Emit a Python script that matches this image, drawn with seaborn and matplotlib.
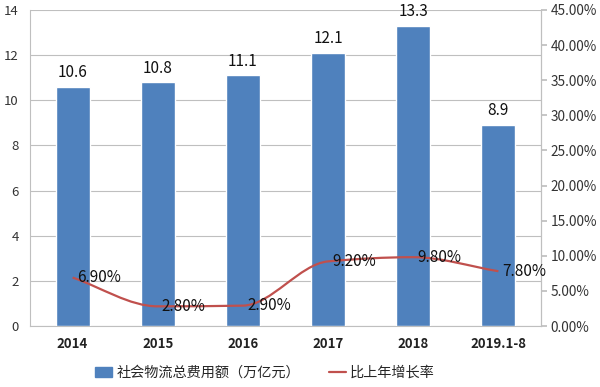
import matplotlib
matplotlib.use("Agg")
import matplotlib.pyplot as plt
import seaborn as sns
import numpy as np
import pandas as pd
from matplotlib.path import Path
from matplotlib.patches import PathPatch
from matplotlib.ticker import FuncFormatter, MultipleLocator
from matplotlib.lines import Line2D
from matplotlib.patches import Patch

categories = ["2014", "2015", "2016", "2017", "2018", "2019.1-8"]
cost = [10.6, 10.8, 11.1, 12.1, 13.3, 8.9]
growth = [6.9, 2.8, 2.9, 9.2, 9.8, 7.8]  # percent
bar_name = "社会物流总费用额（万亿元）"
line_name = "比上年增长率"

sns.set_theme(style="white")
plt.rcParams["font.family"] = ["Noto Sans CJK SC", "DejaVu Sans"]

BAR = "#4F81BD"
LINE = "#C0504D"
GRID = "#BFBFBF"

fig = plt.figure(figsize=(6.0, 3.87), dpi=100)
ax = fig.add_axes([30/600, 1-326/387, (541-30)/600, (326-10)/387])

df = pd.DataFrame({"cat": categories, "cost": cost, "growth": growth})
sns.barplot(data=df, x="cat", y="cost", color=BAR, saturation=1, width=0.4, ax=ax, zorder=3)
ax.set_xlim(-0.5, len(categories) - 0.5)
ax.set_ylim(0, 14)
ax.yaxis.set_major_locator(MultipleLocator(2))
ax.grid(axis="y", color=GRID, linewidth=0.8, zorder=0)
ax.set_axisbelow(True)
ax.set_xlabel("")
ax.set_ylabel("")
ax.spines["top"].set_visible(False)
for s in ["left", "bottom", "right"]:
    ax.spines[s].set_color(GRID)
    ax.spines[s].set_linewidth(0.8)
ax.tick_params(axis="y", labelsize=9.5, colors="#333333", length=0, pad=8)
ax.tick_params(axis="x", length=0, pad=8)
for lbl in ax.get_xticklabels():
    lbl.set_fontweight("bold")
    lbl.set_fontsize(9.5)
    lbl.set_color("#222222")
ax.set_xticks(np.arange(len(categories) + 1) - 0.5, minor=True)
ax.tick_params(axis="x", which="minor", length=4, color=GRID, direction="out")

for i, v in enumerate(cost):
    ax.text(i, v + 0.25, f"{v}", ha="center", va="bottom", fontsize=11, color="#111111", zorder=5)

ax2 = ax.twinx()
ax2.set_ylim(0, 45)
ax2.yaxis.set_major_locator(MultipleLocator(5))
ax2.yaxis.set_major_formatter(FuncFormatter(lambda v, p: f"{v:.2f}%"))
ax2.tick_params(axis="y", labelsize=9.8, colors="#333333", length=4, color=GRID, direction="out", pad=3)
for s in ["top", "left", "bottom"]:
    ax2.spines[s].set_visible(False)
ax2.spines["right"].set_color(GRID)
ax2.spines["right"].set_linewidth(0.8)
ax2.grid(False)

# smooth monotone cubic (Fritsch-Carlson tangents) drawn as Bezier path
xs = np.arange(len(growth), dtype=float)
ys = np.array(growth, dtype=float)
d = np.diff(ys)
m = np.zeros_like(ys)
m[0], m[-1] = d[0], d[-1]
for i in range(1, len(ys) - 1):
    if d[i-1] * d[i] <= 0:
        m[i] = 0.0
    else:
        m[i] = 2.0 / (1.0 / d[i-1] + 1.0 / d[i])
verts = [(xs[0], ys[0])]
codes = [Path.MOVETO]
for i in range(len(xs) - 1):
    c1 = (xs[i] + 1/3, ys[i] + m[i] / 3)
    c2 = (xs[i+1] - 1/3, ys[i+1] - m[i+1] / 3)
    verts += [c1, c2, (xs[i+1], ys[i+1])]
    codes += [Path.CURVE4] * 3
ax2.add_patch(PathPatch(Path(verts, codes), facecolor="none", edgecolor=LINE, linewidth=1.6, zorder=4))

for i, v in enumerate(growth):
    ax2.annotate(f"{v:.2f}%", (i, v), xytext=(3, 0), textcoords="offset points",
                 ha="left", va="center", fontsize=11, color="#111111", zorder=6)

handles = [Patch(facecolor=BAR, edgecolor=BAR), Line2D([0], [0], color=LINE, lw=1.6)]
fig.legend(handles, [bar_name, line_name], loc="center", bbox_to_anchor=(265/600, 1-373/387),
           ncol=2, frameon=False, fontsize=10.2, handlelength=1.2, handleheight=0.8,
           columnspacing=2.0, handletextpad=0.3)

fig.savefig("out.png", dpi=100)
